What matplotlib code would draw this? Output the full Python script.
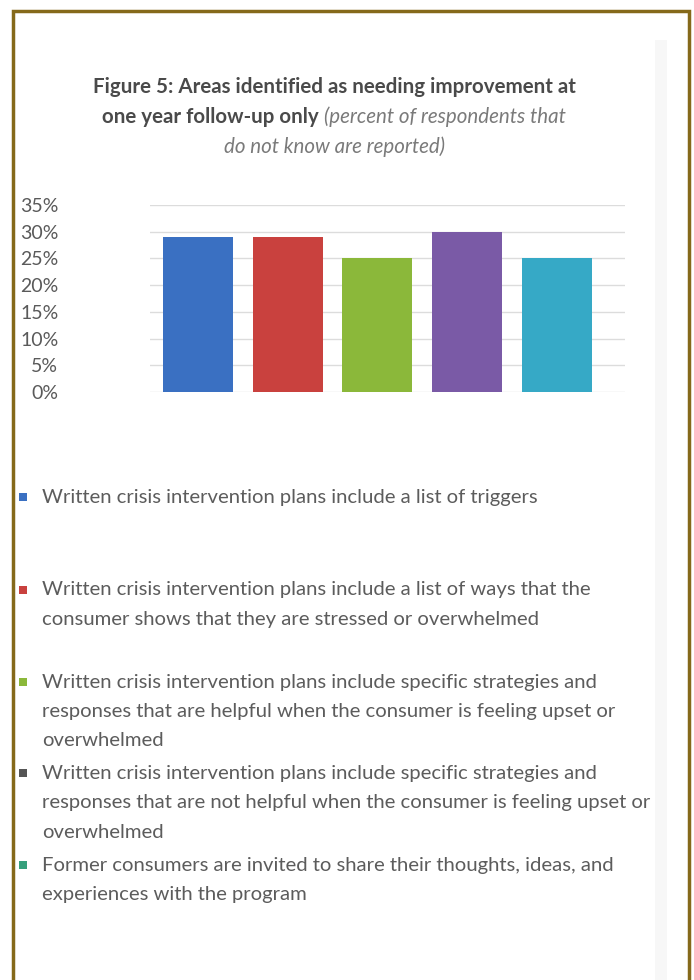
import matplotlib.pyplot as plt
from matplotlib.patches import Rectangle
from matplotlib.ticker import PercentFormatter

# data
categories = ['Triggers', 'Stress signs', 'Helpful strategies', 'Unhelpful strategies', 'Former consumers']
values = [29, 29, 25, 30, 25]
bar_colors = ['#3a70c2', '#c9413e', '#8bb83a', '#7a5aa6', '#36a9c6']
legend_colors = ['#3a70c2', '#c9413e', '#8bb83a', '#555555', '#35a07c']
legend_labels = [
    ['Written crisis intervention plans include a list of triggers'],
    ['Written crisis intervention plans include a list of ways that the',
     'consumer shows that they are stressed or overwhelmed'],
    ['Written crisis intervention plans include specific strategies and',
     'responses that are helpful when the consumer is feeling upset or',
     'overwhelmed'],
    ['Written crisis intervention plans include specific strategies and',
     'responses that are not helpful when the consumer is feeling upset or',
     'overwhelmed'],
    ['Former consumers are invited to share their thoughts, ideas, and',
     'experiences with the program'],
]
yticks = [0, 5, 10, 15, 20, 25, 30, 35]

W, H = 694, 980
plt.rcParams['font.family'] = ['Lato', 'DejaVu Sans']
fig = plt.figure(figsize=(W / 100, H / 100), dpi=100)
fig.patch.set_facecolor('white')

def fx(px):
    return px / W

def fy(py):
    return 1 - py / H

# page border
fig.patches.append(Rectangle((fx(13), fy(1000)), fx(689) - fx(13), fy(11) - fy(1000),
                             transform=fig.transFigure, fill=False,
                             edgecolor='#85691a', linewidth=2.5))
# faint page edge shading
fig.patches.append(Rectangle((fx(655), fy(980)), fx(12), fy(40) - fy(980),
                             transform=fig.transFigure, facecolor='#f7f7f7',
                             edgecolor='none', zorder=0))

# title
tc = '#4a4a4a'
fs_t = 14.8
fig.text(fx(334), fy(87), 'Figure 5: Areas identified as needing improvement at',
         ha='center', va='center', fontsize=fs_t, fontweight='bold', color=tc)
fig.text(fx(324), fy(117), 'one year follow-up only ', ha='right', va='center',
         fontsize=fs_t, fontweight='bold', color=tc)
fig.text(fx(324), fy(117), '(percent of respondents that', ha='left', va='center',
         fontsize=fs_t, style='italic', color='#7a7a7a')
fig.text(fx(334), fy(147), 'do not know are reported)', ha='center', va='center',
         fontsize=fs_t, style='italic', color='#7a7a7a')

# chart
ax = fig.add_axes([fx(150), fy(392), fx(625) - fx(150), fy(205) - fy(392)])
x = list(range(len(categories)))
ax.bar(x, values, width=0.78, color=bar_colors, zorder=3)
ax.set_ylim(0, 35)
ax.set_xlim(-0.535, 4.76)
ax.set_yticks(yticks)
ax.yaxis.set_major_formatter(PercentFormatter(decimals=0))
ax.grid(axis='y', color='#dcdcdc', linewidth=1, zorder=0)
ax.set_xticks([])
for s in ax.spines.values():
    s.set_visible(False)
ax.tick_params(axis='y', length=0, pad=66, labelsize=14, labelcolor='#5a5a5a')

# legend
starts = [497, 590, 682, 773, 865]
for y0, col, lines in zip(starts, legend_colors, legend_labels):
    fig.patches.append(Rectangle((fx(19), fy(y0 + 4)), fx(8), fy(0) - fy(8),
                                 transform=fig.transFigure, facecolor=col,
                                 edgecolor='none'))
    for i, line in enumerate(lines):
        fig.text(fx(42), fy(y0 + i * 29.5), line, ha='left', va='center',
                 fontsize=14.6, color='#5c5c5c')

fig.savefig('out.png', dpi=100)
